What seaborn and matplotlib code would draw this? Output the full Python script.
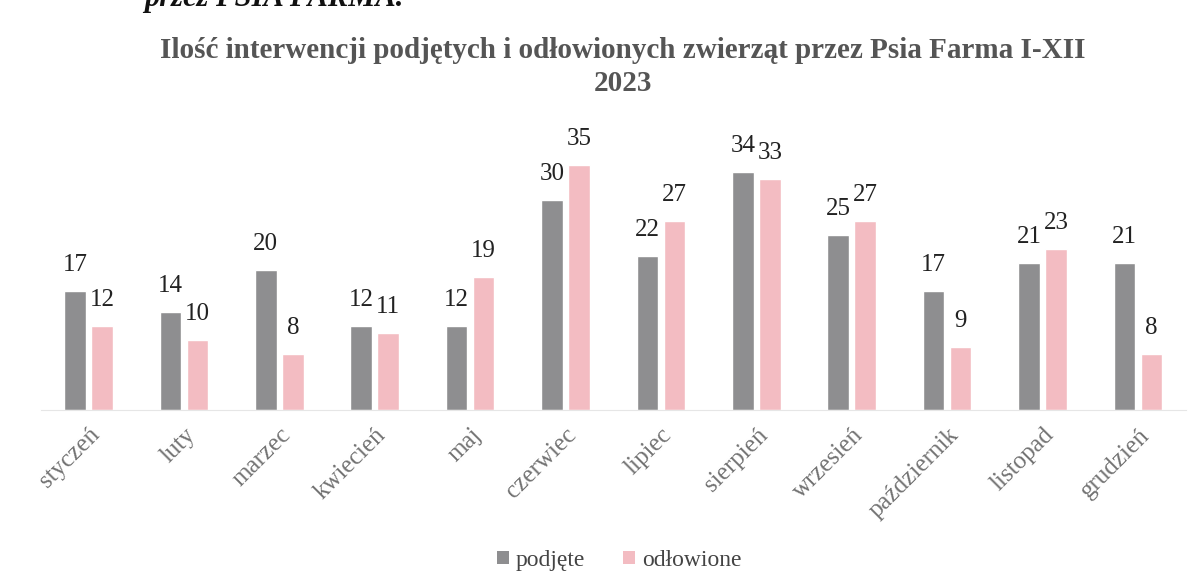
import matplotlib
matplotlib.use("Agg")
import matplotlib.pyplot as plt
from matplotlib.patches import Patch
import seaborn as sns
import pandas as pd

months = ["styczeń", "luty", "marzec", "kwiecień", "maj", "czerwiec", "lipiec",
          "sierpień", "wrzesień", "październik", "listopad", "grudzień"]
podjete = [17, 14, 20, 12, 12, 30, 22, 34, 25, 17, 21, 21]
odlowione = [12, 10, 8, 11, 19, 35, 27, 33, 27, 9, 23, 8]
series = ["podjęte", "odłowione"]
colors = ["#8e8e90", "#f3bcc2"]

df = pd.DataFrame({
    "miesiąc": months * 2,
    "wartość": podjete + odlowione,
    "seria": [series[0]] * len(months) + [series[1]] * len(months),
})

sns.set_theme(style="white")
plt.rcParams["font.family"] = ["Liberation Serif", "DejaVu Serif"]

fig = plt.figure(figsize=(12, 5.88), dpi=100)
ax = fig.add_axes([0.034, 0.3027, 0.954, 0.47])

sns.barplot(data=df, x="miesiąc", y="wartość", hue="seria", palette=colors,
            width=0.566, gap=0.2, ax=ax, legend=False, saturation=1)

for cont in ax.containers:
    ax.bar_label(cont, fmt="%d", padding=11, fontsize=18, color="#222222")

ax.set_xlim(-0.5, len(months) - 0.5)
ax.set_ylim(0, 39.5)
ax.set_xlabel("")
ax.set_ylabel("")
ax.set_yticks([])
for s in ["top", "right", "left"]:
    ax.spines[s].set_visible(False)
ax.spines["bottom"].set_color("#e6e6e6")
ax.spines["bottom"].set_linewidth(0.8)
ax.tick_params(axis="x", length=0, pad=10)
plt.setp(ax.get_xticklabels(), rotation=45, ha="right", rotation_mode="anchor",
         fontsize=18, color="#727272")

fig.text(0.519, 0.886, "Ilość interwencji podjętych i odłowionych zwierząt przez Psia Farma I-XII\n2023",
         ha="center", va="center", fontsize=21, fontweight="bold", color="#555555",
         linespacing=1.27)

fig.text(0.12, 0.978, "przez PSIA FARMA.", ha="left", va="bottom", fontsize=22,
         fontweight="bold", fontstyle="italic", color="#111111")

handles = [Patch(facecolor=c, edgecolor="none") for c in colors]
fig.legend(handles, series, loc="center", bbox_to_anchor=(0.516, 0.047), ncol=2,
           frameon=False, fontsize=17, handlelength=0.5, handleheight=0.5,
           handletextpad=0.3, columnspacing=1.6, labelcolor="#444444")

fig.savefig("out.png", dpi=100, facecolor="white")
